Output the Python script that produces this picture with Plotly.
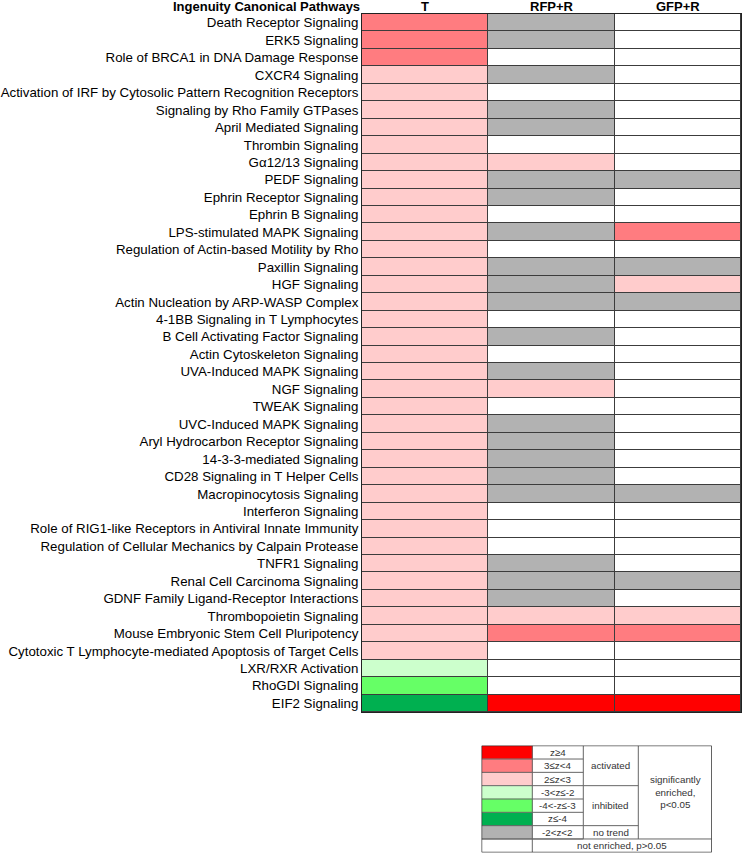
import plotly.graph_objects as go

# ---------------- data ----------------
pathways = [
    "Death Receptor Signaling",
    "ERK5 Signaling",
    "Role of BRCA1 in DNA Damage Response",
    "CXCR4 Signaling",
    "Activation of IRF by Cytosolic Pattern Recognition Receptors",
    "Signaling by Rho Family GTPases",
    "April Mediated Signaling",
    "Thrombin Signaling",
    "Gα12/13 Signaling",
    "PEDF Signaling",
    "Ephrin Receptor Signaling",
    "Ephrin B Signaling",
    "LPS-stimulated MAPK Signaling",
    "Regulation of Actin-based Motility by Rho",
    "Paxillin Signaling",
    "HGF Signaling",
    "Actin Nucleation by ARP-WASP Complex",
    "4-1BB Signaling in T Lymphocytes",
    "B Cell Activating Factor Signaling",
    "Actin Cytoskeleton Signaling",
    "UVA-Induced MAPK Signaling",
    "NGF Signaling",
    "TWEAK Signaling",
    "UVC-Induced MAPK Signaling",
    "Aryl Hydrocarbon Receptor Signaling",
    "14-3-3-mediated Signaling",
    "CD28 Signaling in T Helper Cells",
    "Macropinocytosis Signaling",
    "Interferon Signaling",
    "Role of RIG1-like Receptors in Antiviral Innate Immunity",
    "Regulation of Cellular Mechanics by Calpain Protease",
    "TNFR1 Signaling",
    "Renal Cell Carcinoma Signaling",
    "GDNF Family Ligand-Receptor Interactions",
    "Thrombopoietin Signaling",
    "Mouse Embryonic Stem Cell Pluripotency",
    "Cytotoxic T Lymphocyte-mediated Apoptosis of Target Cells",
    "LXR/RXR Activation",
    "RhoGDI Signaling",
    "EIF2 Signaling",
]

columns = ["T", "RFP+R", "GFP+R"]
row_header = "Ingenuity Canonical Pathways"

# categories: z4 (z>=4), z3 (3<=z<4), z2 (2<=z<3), i2 (-3<z<=-2),
# i3 (-4<z<=-3), i4 (z<=-4), nt (no trend), ne (not enriched)
T_vals = ["z3", "z3", "z3", "z2", "z2", "z2", "z2", "z2", "z2", "z2",
          "z2", "z2", "z2", "z2", "z2", "z2", "z2", "z2", "z2", "z2",
          "z2", "z2", "z2", "z2", "z2", "z2", "z2", "z2", "z2", "z2",
          "z2", "z2", "z2", "z2", "z2", "z2", "z2", "i2", "i3", "i4"]
RFP_vals = ["nt", "nt", "ne", "nt", "ne", "nt", "nt", "ne", "z2", "nt",
            "nt", "ne", "nt", "ne", "nt", "nt", "nt", "ne", "nt", "ne",
            "nt", "z2", "ne", "nt", "nt", "nt", "nt", "nt", "ne", "ne",
            "ne", "nt", "nt", "nt", "z2", "z3", "ne", "ne", "ne", "z4"]
GFP_vals = ["ne", "ne", "ne", "ne", "ne", "ne", "ne", "ne", "ne", "nt",
            "ne", "ne", "z3", "ne", "nt", "z2", "nt", "ne", "ne", "ne",
            "ne", "ne", "ne", "ne", "ne", "ne", "ne", "nt", "ne", "ne",
            "ne", "ne", "nt", "ne", "z2", "z3", "ne", "ne", "ne", "z4"]

codes = ["z4", "z3", "z2", "i2", "i3", "i4", "nt", "ne"]
legend_labels = ["z≥4", "3≤z<4", "2≤z<3", "-3<z≤-2", "-4<-z≤-3", "z≤-4", "-2<z<2"]
legend_groups = ["activated", "inhibited", "no trend"]
legend_enriched = "significantly<br>enriched,<br>p<0.05"
legend_not_enriched = "not enriched, p>0.05"

# ---------------- styling ----------------
code_colors = ["#FF0000", "#FF7C80", "#FFCCCC", "#CCFFCC", "#66FF66",
               "#00B050", "#B2B2B2", "#FFFFFF"]
FONT = "Liberation Sans, Arial, sans-serif"
FS = 13.3


def esc(s):
    return s.replace("<", "&lt;").replace("&lt;br>", "<br>")


n = len(codes)
colorscale = []
for i, c in enumerate(code_colors):
    colorscale.append([i / n, c])
    colorscale.append([(i + 1) / n, c])

z_main = [[codes.index(a), codes.index(b), codes.index(c)]
          for a, b, c in zip(T_vals, RFP_vals, GFP_vals)]

fig = go.Figure()
fig.add_trace(go.Heatmap(
    z=z_main, x=columns, y=pathways,
    colorscale=colorscale, zmin=-0.5, zmax=n - 0.5, showscale=False,
    xgap=1, ygap=1, hoverinfo="skip",
    xaxis="x", yaxis="y",
))

# legend grid (pixel-like units horizontally, row units vertically)
col_edges = [0, 50.6, 101.6, 156.6, 230]
row_edges = list(range(len(codes) + 1))
z_leg = [[i, 7, 7, 7] for i in range(len(codes))]
fig.add_trace(go.Heatmap(
    z=z_leg, x=col_edges, y=row_edges,
    colorscale=colorscale, zmin=-0.5, zmax=n - 0.5, showscale=False,
    hoverinfo="skip", xaxis="x2", yaxis="y2",
))

shapes = []
LG = "#666666"


def line(x0, y0, x1, y1, color=LG, w=1):
    shapes.append(dict(type="line", xref="x2", yref="y2", x0=x0, y0=y0,
                       x1=x1, y1=y1, line=dict(color=color, width=w)))


nrow = len(codes)
# horizontal lines
for r in range(1, nrow):
    line(col_edges[0], r, col_edges[2], r)
for r in (3, 6):
    line(col_edges[2], r, col_edges[3], r)
line(col_edges[0], nrow - 1, col_edges[4], nrow - 1)
# vertical lines
line(col_edges[1], 0, col_edges[1], nrow)
line(col_edges[2], 0, col_edges[2], nrow - 1)
line(col_edges[3], 0, col_edges[3], nrow - 1)
# outer border
shapes.append(dict(type="rect", xref="x2", yref="y2", x0=col_edges[0], y0=0,
                   x1=col_edges[4], y1=nrow, line=dict(color="#222222", width=1)))

annotations = []
LFONT = dict(family=FONT, size=9.8, color="#333333")
for i, lab in enumerate(legend_labels):
    annotations.append(dict(xref="x2", yref="y2", x=(col_edges[1] + col_edges[2]) / 2,
                            y=i + 0.5, text=esc(lab), showarrow=False, font=LFONT))
for lab, yc in zip(legend_groups, [1.5, 4.5, 6.5]):
    annotations.append(dict(xref="x2", yref="y2", x=(col_edges[2] + col_edges[3]) / 2,
                            y=yc, text=lab, showarrow=False, font=LFONT))
annotations.append(dict(xref="x2", yref="y2", x=(col_edges[3] + col_edges[4]) / 2,
                        y=3.5, text=esc(legend_enriched), showarrow=False, font=LFONT))
annotations.append(dict(xref="x2", yref="y2", x=(col_edges[1] + col_edges[4]) / 2,
                        y=nrow - 0.5, text=esc(legend_not_enriched), showarrow=False, font=LFONT))

HFONT = dict(family=FONT, size=13, color="black")
annotations.append(dict(xref="paper", yref="paper", x=0, y=1, xanchor="right",
                        yanchor="middle", xshift=-1, yshift=8, borderpad=0,
                        text="<b>" + row_header + "</b>", showarrow=False, font=HFONT))
for c in columns:
    annotations.append(dict(xref="x", yref="paper", x=c, y=1, xanchor="center",
                            yanchor="middle", yshift=8, borderpad=0,
                            text="<b>" + c + "</b>", showarrow=False, font=HFONT))

W, H = 743, 854
ML, MR, MT, MB = 362, 2, 14, 1
ph = H - MT - MB
pw = W - ML - MR
main_bottom = 712
leg_top, leg_bottom = 745.7, 852.3
leg_left, leg_right = 481.7, 711.7


def clamp(v):
    return min(1.0, max(0.0, v))


fig.update_layout(
    width=W, height=H,
    margin=dict(l=ML, r=MR, t=MT, b=MB, pad=0, autoexpand=False),
    paper_bgcolor="white", plot_bgcolor="#3c3c3c",
    font=dict(family=FONT, size=FS, color="black"),
    xaxis=dict(domain=[0, 1], side="top", type="category", range=[-0.5, 2.5],
               showline=True, mirror=True, linecolor="#222222", linewidth=1,
               showgrid=False, zeroline=False, ticks="", automargin=False,
               showticklabels=False, anchor="y", fixedrange=True),
    yaxis=dict(domain=[clamp((H - MB - main_bottom) / ph), 1], type="category",
               range=[len(pathways) - 0.5, -0.5], automargin=False,
               showline=True, mirror=True, linecolor="#222222", linewidth=1,
               showgrid=False, zeroline=False, ticks="",
               tickfont=dict(family=FONT, size=FS, color="black"),
               anchor="x", fixedrange=True),
    xaxis2=dict(domain=[clamp((leg_left - ML) / pw), clamp((leg_right - ML) / pw)],
                range=[col_edges[0], col_edges[-1]], visible=False, anchor="y2",
                fixedrange=True),
    yaxis2=dict(domain=[clamp((H - MB - leg_bottom) / ph), clamp((H - MB - leg_top) / ph)],
                range=[nrow, 0], visible=False, anchor="x2", fixedrange=True),
    shapes=shapes,
    annotations=annotations,
    showlegend=False,
)

fig.write_html(
    "out.html",
    config={"displayModeBar": False, "staticPlot": True},
    post_script="document.body.style.margin='0';document.body.style.overflow='hidden';",
)
